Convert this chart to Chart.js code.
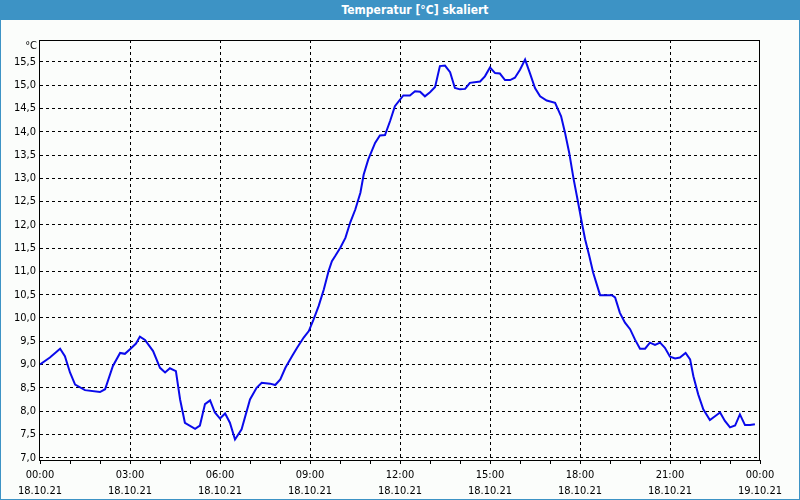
<!DOCTYPE html>
<html>
<head>
<meta charset="utf-8">
<script src="https://cdn.jsdelivr.net/npm/chart.js@4.4.0/dist/chart.umd.min.js"></script>
<style>
  body { margin: 0; background: #fbfdfb; }
  #frame { position: absolute; left: 0; top: 0; width: 800px; height: 500px; box-sizing: border-box;
           border: 1px solid #3d93c5; background: #fbfdfb; }
  #title { position: absolute; left: 0; top: 0; width: 800px; height: 20px; background: #3d93c5;
           color: #fff; font: bold 12px "DejaVu Sans Condensed", "Liberation Sans", sans-serif;
           line-height: 20px; text-align: center; padding-left: 30px; box-sizing: border-box; }
  #wrap { position: absolute; left: 1px; top: 20px; width: 798px; height: 479px; }
</style>
</head>
<body>
<div id="frame"></div>
<div id="title">Temperatur [°C] skaliert</div>
<div id="wrap"><canvas id="chart"></canvas></div>
<script>
// time of reading in hours since 18.10.21 00:00
var hours = [0.0, 0.33, 0.67, 0.83, 1.0, 1.17, 1.5, 2.0, 2.17, 2.43, 2.67, 2.83, 3.0, 3.2, 3.33, 3.5, 3.77, 4.0, 4.17, 4.33,
  4.53, 4.67, 4.83, 5.17, 5.33, 5.5, 5.67, 5.83, 6.0, 6.17, 6.33, 6.5, 6.72, 7.0, 7.22, 7.39, 7.67, 7.84, 8.01, 8.18,
  8.4, 8.57, 8.79, 8.96, 9.12, 9.29, 9.46, 9.62, 9.73, 9.84, 10.01, 10.18, 10.34, 10.51, 10.68, 10.79, 10.94, 11.17, 11.33, 11.5,
  11.67, 11.83, 12.11, 12.33, 12.5, 12.67, 12.83, 13.0, 13.17, 13.33, 13.5, 13.67, 13.83, 14.0, 14.17, 14.33, 14.67, 14.83, 15.0, 15.17,
  15.33, 15.5, 15.67, 15.83, 16.0, 16.17, 16.33, 16.5, 16.67, 16.89, 17.17, 17.37, 17.5, 17.64, 17.78, 17.94, 18.06, 18.17, 18.31, 18.44,
  18.67, 19.06, 19.17, 19.33, 19.5, 19.67, 19.83, 20.0, 20.17, 20.33, 20.5, 20.67, 20.83, 21.0, 21.17, 21.33, 21.52, 21.67, 21.78, 21.94,
  22.11, 22.33, 22.5, 22.67, 22.83, 23.0, 23.17, 23.33, 23.5, 23.67, 23.83];
var temps = [9.00, 9.15, 9.34, 9.18, 8.83, 8.57, 8.45, 8.41, 8.47, 8.97, 9.25, 9.23, 9.33, 9.45, 9.60, 9.53, 9.29, 8.93, 8.83, 8.92,
  8.86, 8.25, 7.75, 7.62, 7.69, 8.15, 8.23, 7.97, 7.84, 7.95, 7.75, 7.39, 7.61, 8.25, 8.50, 8.61, 8.59, 8.56, 8.68, 8.93,
  9.18, 9.36, 9.58, 9.72, 9.97, 10.26, 10.61, 11.01, 11.22, 11.33, 11.51, 11.72, 12.05, 12.33, 12.69, 13.08, 13.40, 13.76, 13.92, 13.93,
  14.23, 14.55, 14.78, 14.78, 14.87, 14.86, 14.76, 14.85, 14.96, 15.41, 15.42, 15.28, 14.94, 14.91, 14.92, 15.05, 15.08, 15.19, 15.38, 15.26,
  15.25, 15.11, 15.11, 15.16, 15.33, 15.55, 15.26, 14.94, 14.76, 14.67, 14.62, 14.33, 13.98, 13.55, 13.01, 12.47, 12.05, 11.69, 11.33, 10.97,
  10.49, 10.49, 10.44, 10.11, 9.90, 9.76, 9.54, 9.34, 9.34, 9.47, 9.42, 9.47, 9.36, 9.17, 9.13, 9.15, 9.25, 9.11, 8.75, 8.36,
  8.04, 7.81, 7.89, 7.97, 7.79, 7.65, 7.69, 7.93, 7.70, 7.70, 7.72];

var yTicks = [7.0, 7.5, 8.0, 8.5, 9.0, 9.5, 10.0, 10.5, 11.0, 11.5, 12.0, 12.5, 13.0, 13.5, 14.0, 14.5, 15.0, 15.5];
var xLabelHours = [0, 3, 6, 9, 12, 15, 18, 21, 24];
var xLabelTimes = ['00:00', '03:00', '06:00', '09:00', '12:00', '15:00', '18:00', '21:00', '00:00'];
var xLabelDates = ['18.10.21', '18.10.21', '18.10.21', '18.10.21', '18.10.21', '18.10.21', '18.10.21', '18.10.21', '19.10.21'];

var FONT = '"DejaVu Sans Condensed", "Liberation Sans", sans-serif';

var points = hours.map(function(h, i) { return { x: h, y: temps[i] }; });

// frame around plot + unit label
var framePlugin = {
  id: 'frame',
  beforeDatasetsDraw: function(chart) {
    var a = chart.chartArea, c = chart.ctx;
    c.save();
    c.strokeStyle = '#000';
    c.lineWidth = 1;
    c.setLineDash([]);
    c.strokeRect(Math.round(a.left) - 0.5, Math.round(a.top) + 0.5, Math.round(a.right - a.left), Math.round(a.bottom - a.top));
    c.fillStyle = '#000';
    c.font = '11px ' + FONT;
    c.textAlign = 'right';
    c.textBaseline = 'middle';
    c.fillText('°C', a.left - 3, a.top + 6);
    c.restore();
  }
};

new Chart(document.getElementById('chart'), {
  type: 'line',
  data: {
    datasets: [{
      data: points,
      borderColor: 'rgb(10,10,235)',
      borderWidth: 2,
      pointRadius: 0,
      tension: 0,
      fill: false
    }]
  },
  options: {
    responsive: true,
    maintainAspectRatio: false,
    animation: false,
    events: [],
    layout: { padding: { top: 20, right: 39, left: 0, bottom: 0 } },
    plugins: { legend: { display: false }, tooltip: { enabled: false }, title: { display: false } },
    scales: {
      x: {
        type: 'linear',
        min: 0,
        max: 24,
        afterBuildTicks: function(s) {
          var t = [];
          for (var h = 0; h <= 24; h++) t.push({ value: h });
          s.ticks = t;
        },
        afterFit: function(s) { s.height = 39; },
        border: { display: false, dash: [3, 3] },
        grid: {
          color: function(ctx) {
            var v = ctx.tick ? ctx.tick.value : 0;
            return (v % 3 === 0 && v !== 0 && v !== 24) ? '#000' : 'rgba(0,0,0,0)';
          },
          tickColor: '#000',
          tickLength: 4,
          lineWidth: 1,
          tickBorderDash: []
        },
        ticks: {
          autoSkip: false,
          maxRotation: 0,
          padding: 3,
          color: '#000',
          font: { family: FONT, size: 11, lineHeight: 1.45 },
          callback: function(v) {
            var i = xLabelHours.indexOf(v);
            return i < 0 ? '' : [xLabelTimes[i], xLabelDates[i]];
          }
        }
      },
      y: {
        min: 6.95,
        max: 15.97,
        afterBuildTicks: function(s) {
          s.ticks = yTicks.map(function(v) { return { value: v }; });
        },
        afterFit: function(s) { s.width = 39; },
        border: { display: false, dash: [3, 3] },
        grid: {
          color: '#000',
          lineWidth: 1,
          drawTicks: false
        },
        ticks: {
          padding: 4,
          color: '#000',
          font: { family: FONT, size: 11 },
          callback: function(v) { return v.toFixed(1).replace('.', ','); }
        }
      }
    }
  },
  plugins: [framePlugin]
});
</script>
</body>
</html>
